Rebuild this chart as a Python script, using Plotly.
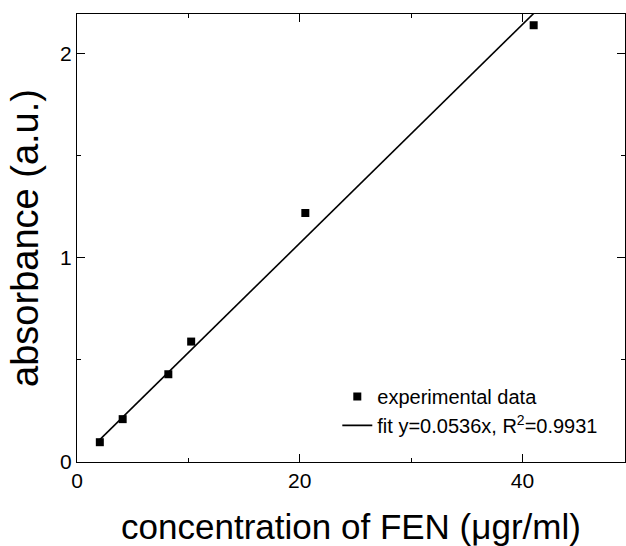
import plotly.graph_objects as go

conc = [2.05, 4.1, 8.2, 10.25, 20.5, 41.0]
absorb = [0.097, 0.21, 0.43, 0.59, 1.22, 2.14]
slope = 0.0536
fit_x = [2.05, 41.0]
fit_y = [slope * v for v in fit_x]

FONT = "Liberation Sans, Arial, sans-serif"

fig = go.Figure()
fig.add_trace(go.Scatter(x=conc, y=absorb, mode="markers", name="experimental data",
                         marker=dict(symbol="square", size=8, color="black")))
fig.add_trace(go.Scatter(x=fit_x, y=fit_y, mode="lines",
                         name="fit y=0.0536x, R<sup>2</sup>=0.9931",
                         line=dict(color="black", width=1.6)))

axis_common = dict(showgrid=False, zeroline=False, showline=True, linecolor="black", linewidth=1.3,
                   mirror="allticks", ticks="inside", ticklen=8, tickwidth=1.3, tickcolor="black",
                   tickfont=dict(family=FONT, size=21, color="black"))
minor_common = dict(ticks="inside", ticklen=4, tickwidth=1.3, tickcolor="black")

fig.update_layout(
    width=626, height=546,
    margin=dict(l=77, r=1, t=14, b=84),
    paper_bgcolor="white", plot_bgcolor="white",
    font=dict(family=FONT, color="black"),
    xaxis=dict(range=[0, 49.2], tickvals=[0, 20, 40], minor=dict(tickvals=[10, 30], **minor_common),
               title=dict(text="concentration of FEN (μgr/ml)", font=dict(size=35, family=FONT), standoff=25),
               **axis_common),
    yaxis=dict(range=[0, 2.195], tickvals=[0, 1, 2], minor=dict(tickvals=[0.5, 1.5], **minor_common),
               title=dict(text="absorbance (a.u.)", font=dict(size=38, family=FONT), standoff=9),
               **axis_common),
    legend=dict(x=0.475, y=0.19, xanchor="left", yanchor="top", bgcolor="rgba(0,0,0,0)",
                font=dict(size=20, family=FONT, color="black"), tracegroupgap=0),
    showlegend=True,
)

fig.write_html("out.html")
